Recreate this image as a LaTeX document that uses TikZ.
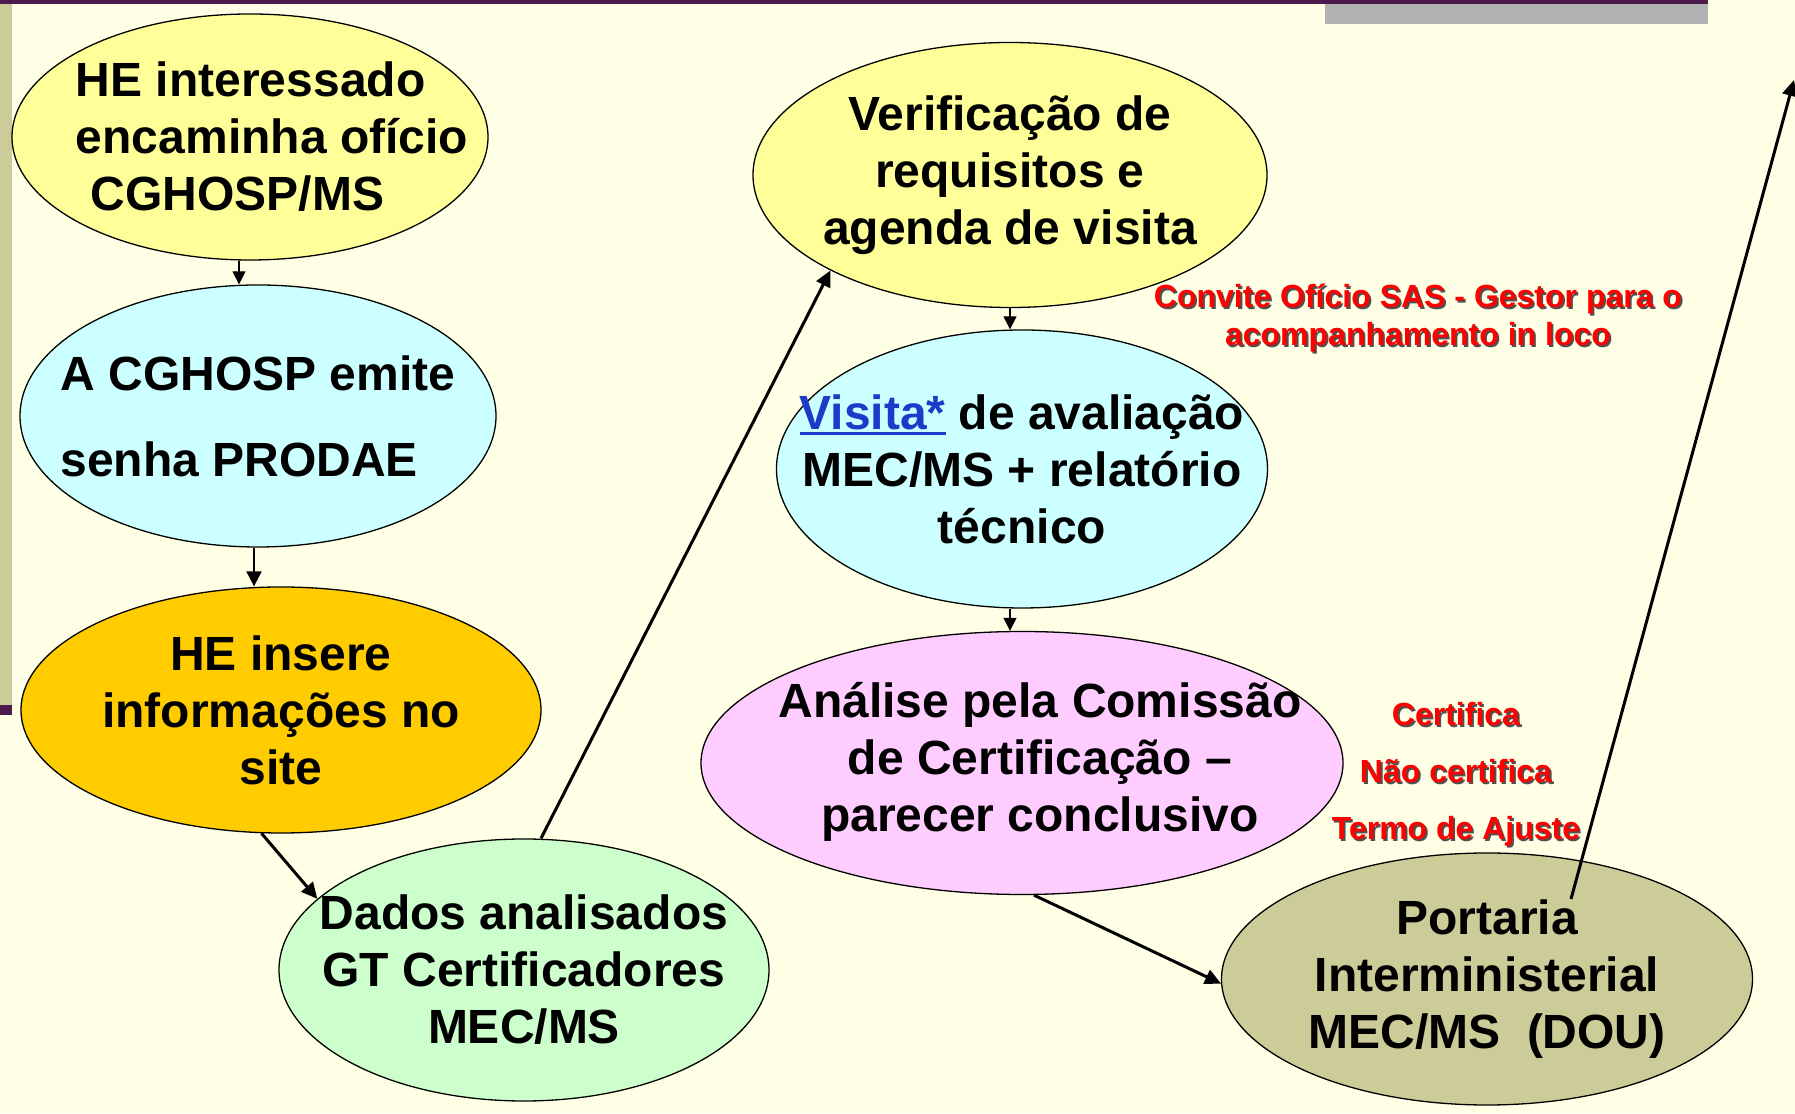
\documentclass[tikz,border=0pt]{standalone}
\usepackage{fontspec}
\setmainfont{Liberation Sans}
\usetikzlibrary{shapes.geometric,arrows.meta}

\definecolor{bgcream}{HTML}{FFFFE5}
\definecolor{stripolive}{HTML}{CCCC99}
\definecolor{barpurple}{HTML}{4D1A4D}
\definecolor{bargray}{HTML}{B2B2B2}
\definecolor{fillyellow}{HTML}{FFFF99}
\definecolor{fillcyan}{HTML}{CCFFFF}
\definecolor{fillorange}{HTML}{FFCC00}
\definecolor{fillgreen}{HTML}{CCFFCC}
\definecolor{fillpink}{HTML}{FFCCFF}
\definecolor{fillolive}{HTML}{CCCC99}
\definecolor{notered}{HTML}{FF0000}
\definecolor{shadegray}{HTML}{505050}
\definecolor{linkblue}{HTML}{1A3CC8}

\newcommand\redshade[1]{\makebox[0pt][l]{\hspace{1.8pt}\raisebox{-1.8pt}{\textcolor{shadegray}{#1}}}#1}
\newcommand\linkword[1]{\setbox0=\hbox{#1}\rlap{\rule[-6pt]{\wd0}{3.2pt}}\box0}

\begin{document}
\begin{tikzpicture}[x=1pt, y=1pt,
  bubble/.style={ellipse, draw=black, line width=1.3pt, inner sep=-300pt, align=center,
    font=\fontsize{48}{57}\selectfont\bfseries},
  note/.style={align=center, text=notered, inner sep=0pt},
  thinarrow/.style={line width=1.2pt, -{Triangle[length=13pt,width=13pt]}},
  midarrow/.style={line width=2pt, -{Triangle[length=15pt,width=15pt]}},
  thickarrow/.style={line width=3pt, -{Triangle[length=16pt,width=15pt]}}]
  \useasboundingbox (0,0) rectangle (1795,1113);
  \fill[bgcream] (0,0) rectangle (1795,1113);
  \fill[stripolive] (0,408) rectangle (12,1109);
  \fill[barpurple] (0,398) rectangle (12,408);
  \fill[barpurple] (0,1109) rectangle (1708,1113);
  \fill[bargray] (1325,1089) rectangle (1708,1109);

  \node[bubble, fill=fillyellow, minimum width=476, minimum height=246, align=left] (e1) at (250,976)
    {\hspace*{44pt}HE interessado\\\hspace*{44pt}encaminha ofício\\\hspace*{59pt}CGHOSP/MS};
  \node[bubble, fill=fillcyan, minimum width=476, minimum height=262, align=left,
    font=\fontsize{48}{86}\selectfont\bfseries] (e2) at (258,697)
    {A CGHOSP emite\\senha PRODAE};
  \node[bubble, fill=fillorange, minimum width=520, minimum height=246] (e3) at (281,403)
    {HE insere\\informações no\\site};
  \node[bubble, fill=fillgreen, minimum width=490, minimum height=262] (e4) at (524,143)
    {Dados analisados\\GT Certificadores\\MEC/MS};
  \node[bubble, fill=fillyellow, minimum width=514, minimum height=265] (e5) at (1010,938)
    {Verificação de\\requisitos e\\agenda de visita};
  \node[bubble, fill=fillcyan, minimum width=491, minimum height=278] (e6) at (1022,644)
    {\textcolor{linkblue}{\linkword{Visita*}} de avaliação\\MEC/MS + relatório\\técnico};
  \node[bubble, fill=fillpink, minimum width=642, minimum height=263] (e7) at (1022,350)
    {\hspace*{36pt}\begin{tabular}{@{}c@{}}Análise pela Comissão\\de Certificação –\\parecer conclusivo\end{tabular}};
  \node[bubble, fill=fillolive, minimum width=531, minimum height=252] (e8) at (1487,134)
    {Portaria\\Interministerial\\MEC/MS~~(DOU)};

  \node[note, font=\fontsize{32}{38}\selectfont\bfseries] (convite) at (1418,794)
    {\redshade{Convite Ofício SAS - Gestor para o}\\\redshade{acompanhamento in loco}};
  \node[note, font=\fontsize{32}{57}\selectfont\bfseries] (result) at (1456,338)
    {\redshade{Certifica}\\\redshade{Não certifica}\\\redshade{Termo de Ajuste}};

  \coordinate (exit) at (1794,1033);

  \draw[thinarrow] ([xshift=-11pt]e1.south) -- ([xshift=-11pt]e1.south |- e2.north);
  \draw[midarrow] ([xshift=-4pt]e2.south) -- ([xshift=-4pt]e2.south |- e3.north);
  \draw[thickarrow] (e3.261) -- (e4.161);
  \draw[thickarrow] ([xshift=17pt]e4.north) -- (e5.208);
  \draw[thinarrow] (e5.south) -- (e5.south |- e6.north);
  \draw[thinarrow] (e5.south |- e6.south) -- (e5.south |- e7.north);
  \draw[thickarrow] ([xshift=12pt]e7.south) -- (e8.181);
  \draw[thickarrow] ([shift={(84,80)}]e8.center) -- (exit);
\end{tikzpicture}
\end{document}
